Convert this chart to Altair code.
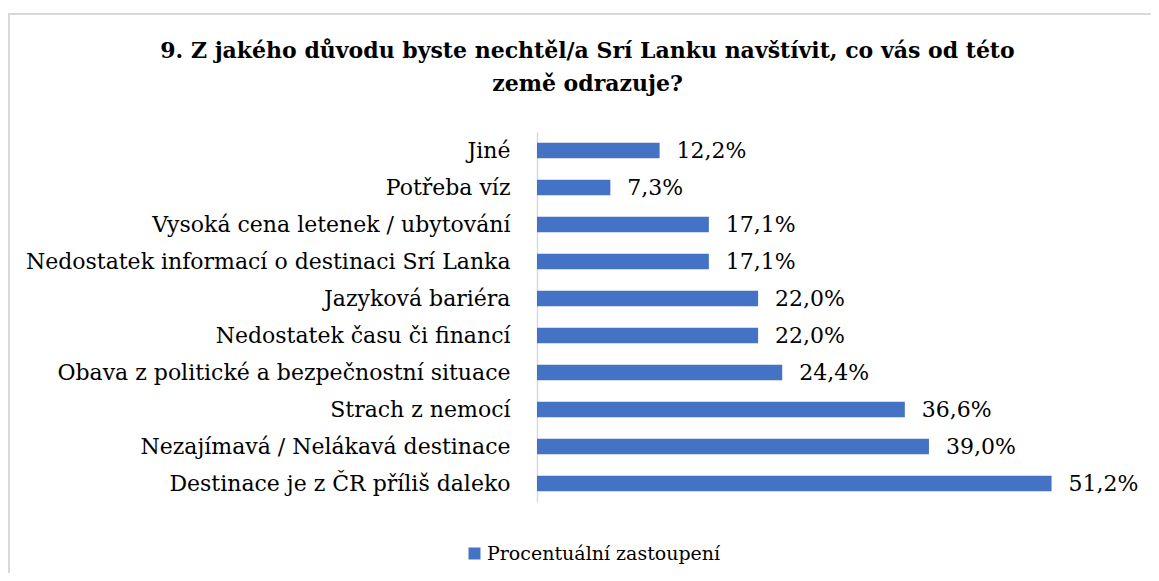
import altair as alt
import pandas as pd

categories = [
    "Jiné",
    "Potřeba víz",
    "Vysoká cena letenek / ubytování",
    "Nedostatek informací o destinaci Srí Lanka",
    "Jazyková bariéra",
    "Nedostatek času či financí",
    "Obava z politické a bezpečnostní situace",
    "Strach z nemocí",
    "Nezajímavá / Nelákavá destinace",
    "Destinace je z ČR příliš daleko",
]
values = [12.2, 7.3, 17.1, 17.1, 22.0, 22.0, 24.4, 36.6, 39.0, 51.2]
series_name = "Procentuální zastoupení"
title_lines = [
    "9. Z jakého důvodu byste nechtěl/a Srí Lanku navštívit, co vás od této",
    "země odrazuje?",
]

df = pd.DataFrame({
    "kategorie": categories,
    "hodnota": values,
    "popisek": [f"{v:.1f}".replace(".", ",") + "%" for v in values],
    "serie": [series_name] * len(values),
})

FONT = "DejaVu Serif"
BLUE = "#4472C4"

y_enc = alt.Y(
    "kategorie:N",
    sort=categories,
    scale=alt.Scale(paddingInner=0.58, paddingOuter=0.29),
    axis=alt.Axis(
        title=None,
        ticks=False,
        tickSize=0,
        labelPadding=27,
        labelFont=FONT,
        labelFontSize=22,
        labelColor="#000000",
        labelLimit=700,
        domainColor="#D9D9D9",
        domainWidth=1.5,
        grid=False,
    ),
)
x_enc = alt.X("hodnota:Q", scale=alt.Scale(domain=[0, 60]), axis=None)

border = alt.Chart(alt.Data(values=[{"a": 1}])).mark_rect(
    fill=None, stroke="#D9D9D9", strokeWidth=2
).encode(
    x=alt.value(-528), x2=alt.value(700), y=alt.value(-118), y2=alt.value(600)
)

bars = alt.Chart(df).mark_bar(stroke=None).encode(
    y=y_enc,
    x=x_enc,
    color=alt.Color(
        "serie:N",
        scale=alt.Scale(range=[BLUE]),
        legend=alt.Legend(
            title=None,
            orient="none",
            legendX=-72,
            legendY=412,
            symbolType="square",
            symbolSize=144,
            symbolStrokeWidth=0,
            labelFont=FONT,
            labelFontSize=19,
            labelColor="#000000",
            labelOffset=3,
            padding=0,
            labelLimit=400,
        ),
    ),
)

labels = alt.Chart(df).mark_text(
    align="left", baseline="middle", dx=17, font=FONT, fontSize=22, color="#000000"
).encode(y=y_enc, x=x_enc, text="popisek:N")

chart = alt.layer(border, bars, labels).properties(
    width=603,
    height=370,
    autosize=alt.AutoSizeParams(type="none"),
    padding={"left": 529, "top": 124, "right": 11, "bottom": 71},
    title=alt.TitleParams(
        text=title_lines,
        anchor="middle",
        frame="group",
        dx=-251,
        dy=119,
        offset=36,
        font=FONT,
        fontSize=22,
        fontWeight="bold",
        lineHeight=33,
        color="#000000",
    ),
).configure_view(stroke=None)

chart.save("out.html", embed_options={"renderer": "svg", "actions": False})
